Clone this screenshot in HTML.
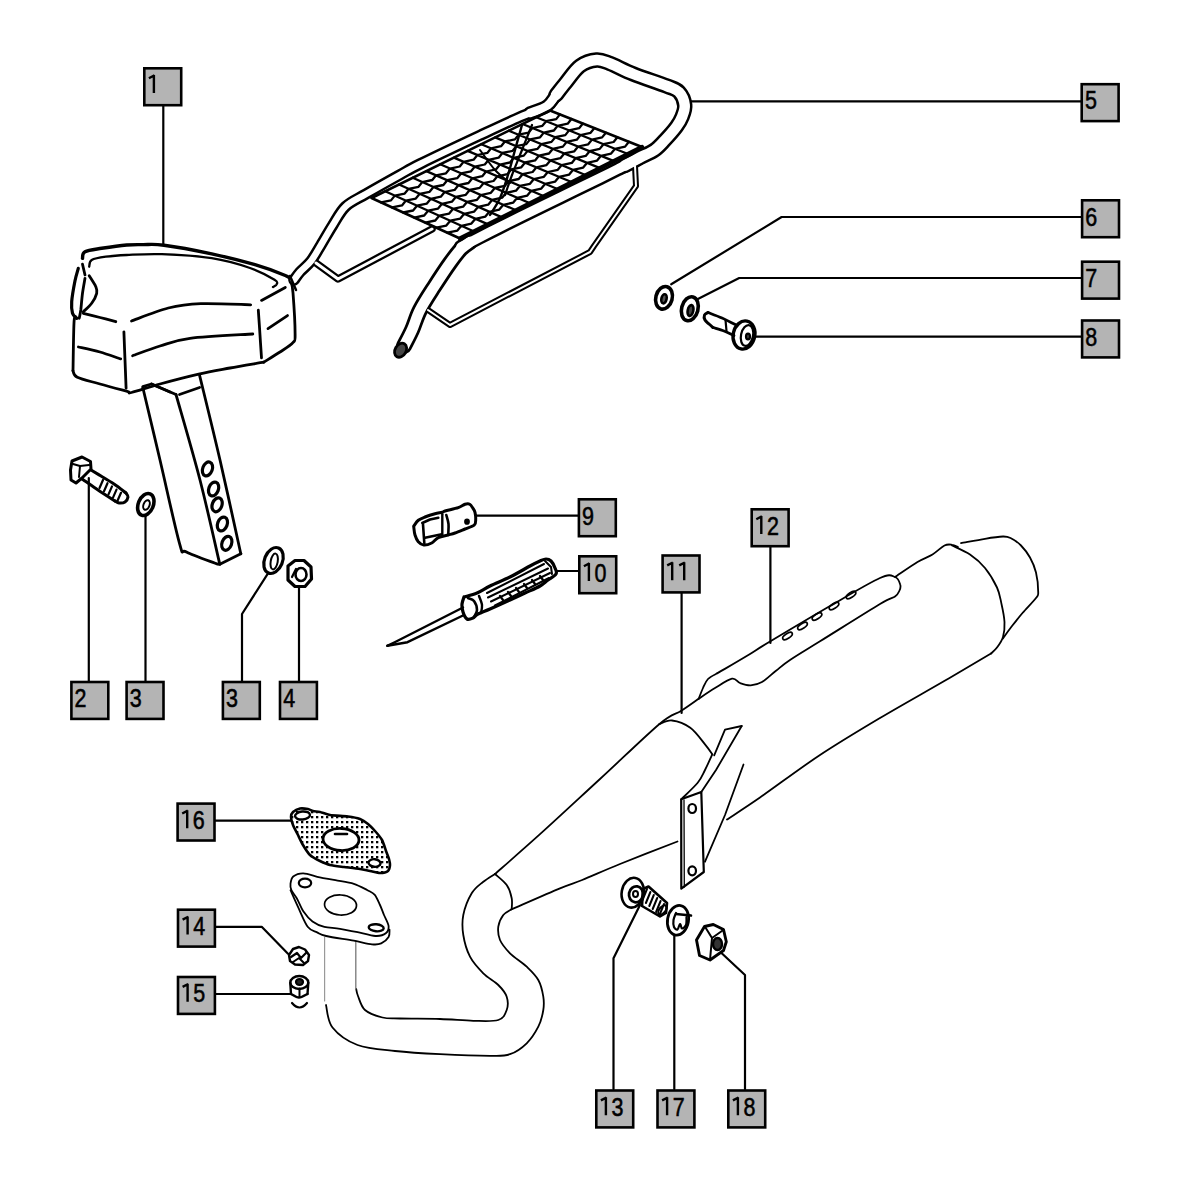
<!DOCTYPE html>
<html><head><meta charset="utf-8"><title>Parts diagram</title>
<style>html,body{margin:0;padding:0;background:#fff;width:1200px;height:1200px;overflow:hidden}svg{display:block}</style>
</head><body>
<svg width="1200" height="1200" viewBox="0 0 1200 1200">
<defs><pattern id="stip" width="5" height="5" patternUnits="userSpaceOnUse"><rect width="5" height="5" fill="#fff"/><rect x="1" y="1" width="2.3" height="2.3" fill="#000"/></pattern></defs>
<rect width="1200" height="1200" fill="#fff"/>
<g stroke-linecap="round" stroke-linejoin="round">
<path d="M163.3,106 L163.3,245" fill="none" stroke="#000" stroke-width="2.2" />
<path d="M1081,101.3 L690,101.3" fill="none" stroke="#000" stroke-width="2.2" />
<path d="M1081,217 L781.6,217 L671.2,284.3" fill="none" stroke="#000" stroke-width="2.2" />
<path d="M1081,278 L739.2,278 L697.4,299.2" fill="none" stroke="#000" stroke-width="2.2" />
<path d="M1081,336.7 L754.7,336.7" fill="none" stroke="#000" stroke-width="2.2" />
<path d="M578,515.7 L476,515.7" fill="none" stroke="#000" stroke-width="2.2" />
<path d="M578,571 L557,571" fill="none" stroke="#000" stroke-width="2.2" />
<path d="M681.6,593 L681.6,713" fill="none" stroke="#000" stroke-width="2.2" />
<path d="M770.4,546 L770.4,643" fill="none" stroke="#000" stroke-width="2.2" />
<path d="M88.8,681 L88.8,478" fill="none" stroke="#000" stroke-width="2.2" />
<path d="M145.5,681 L145.5,516" fill="none" stroke="#000" stroke-width="2.2" />
<path d="M242,681 L242,614 L268,573.3" fill="none" stroke="#000" stroke-width="2.2" />
<path d="M299,681 L299,587" fill="none" stroke="#000" stroke-width="2.2" />
<path d="M215,820.7 L291,820.7" fill="none" stroke="#000" stroke-width="2.2" />
<path d="M215,926.8 L261.7,926.8 L288,953.7" fill="none" stroke="#000" stroke-width="2.2" />
<path d="M215,994 L290,994" fill="none" stroke="#000" stroke-width="2.2" />
<path d="M613.5,1089 L613.5,958.3 L640,905" fill="none" stroke="#000" stroke-width="2.2" />
<path d="M674.3,1089 L674.3,935.5" fill="none" stroke="#000" stroke-width="2.2" />
<path d="M745,1089 L745,975 L721.7,953.3" fill="none" stroke="#000" stroke-width="2.2" />
<path d="M82.5,258.3 C82.9,257.2 81.8,253.4 85,251.7 C88.2,250 94.8,249.4 101.7,248.3 C108.7,247.2 119.8,245.6 126.7,245 C133.6,244.4 137.1,244.6 143.3,244.6 C149.5,244.6 152.6,243.7 164,245.2 C175.4,246.7 196.5,250.6 211.7,253.8 C226.9,257.1 242.7,261.1 255,264.7 C267.3,268.3 279.3,273 285.3,275.5 C291.3,278 289.9,279.1 290.8,279.8" fill="none" stroke="#000" stroke-width="3.4" />
<path d="M89.2,266.7 C89.6,265.6 88.9,261.7 91.7,260 C94.5,258.3 100,257.5 105.8,256.7 C111.6,255.9 117.4,255.4 126.7,255 C136,254.6 147.6,253.7 161.8,254.2 C176,254.7 197,255.9 211.7,258.2 C226.4,260.5 239.5,264.4 250,268 C260.5,271.6 270.1,277.1 274.5,279.8 C278.9,282.5 276.9,283 276.7,284.2 C276.4,285.4 273.6,286.5 273,287" fill="none" stroke="#000" stroke-width="2.3" />
<path d="M290.8,279.8 C291.2,282 292.3,283.8 293,292.8 C293.7,301.8 295.1,325.7 295.1,334 C295.1,342.3 295.4,339.7 292.9,342.7 C290.4,345.7 284.9,348.8 280,352 C275.1,355.2 266.4,360.5 263.7,362.2" fill="none" stroke="#000" stroke-width="2.8" />
<path d="M263.7,362.2 C258.1,363.2 240.8,366 230,368 C219.2,370 210.4,371.4 198.7,374.1 C187,376.8 171.2,380.9 160,384 C148.8,387.1 137,391.3 131.5,392.5 C126,393.7 132.4,392.8 127.2,391.4 C122,390 108.3,386.4 100,384 C91.7,381.6 81.8,379.5 77.3,377.3 C72.8,375.1 73.7,371.9 73,370.8" fill="none" stroke="#000" stroke-width="2.8" />
<path d="M73,370.8 C73.2,362.5 73.5,329.8 74.1,321 C74.7,312.2 76.3,318.8 76.7,318.3" fill="none" stroke="#000" stroke-width="2.8" />
<path d="M78.3,268.3 C77.8,270.4 76.1,275.2 75,280.8 C73.9,286.4 72.1,296.3 71.7,301.7 C71.3,307.1 71.7,310.5 72.5,313.3 C73.3,316.1 76,317.5 76.7,318.3" fill="none" stroke="#000" stroke-width="3.2" />
<path d="M82.5,264.2 L85,275" fill="none" stroke="#000" stroke-width="2.8" />
<path d="M85,278.3 C84.6,280.8 83.2,288 82.5,293.3 C81.8,298.6 81.3,305.8 80.8,310 C80.2,314.2 79.5,316.9 79.2,318.3" fill="none" stroke="#000" stroke-width="2.8" />
<path d="M89.2,275.8 C90.3,277.6 94.5,283.8 95.8,286.7 C97,289.6 97.4,290.5 96.7,293.3 C96,296.1 93.9,300.2 91.7,303.3 C89.5,306.4 84.7,310.3 83.3,311.7" fill="none" stroke="#000" stroke-width="2.8" />
<path d="M83.3,313.3 C86.1,314 94.6,316.1 100,317.5 C105.4,318.9 113.2,321 115.8,321.7" fill="none" stroke="#000" stroke-width="2.8" />
<path d="M131.5,321 C137.6,318.8 156.8,310.9 168.3,308 C179.9,305.1 187.1,304.2 200.8,303.7 C214.5,303.2 242.4,304.6 250.7,304.8" fill="none" stroke="#000" stroke-width="2.8" />
<path d="M261.5,300.4 L285.3,287.4" fill="none" stroke="#000" stroke-width="2.8" />
<path d="M123.9,331.8 C124.1,336.5 124.6,350.6 125,360 C125.4,369.4 125.9,383.5 126.1,388.2" fill="none" stroke="#000" stroke-width="2.8" />
<path d="M258.3,310.2 C258.6,314.3 259.5,327.1 260,335 C260.5,342.9 261.2,354 261.5,357.8" fill="none" stroke="#000" stroke-width="2.8" />
<path d="M132.6,355.7 C137.2,354.1 150.4,348.9 160,346 C169.6,343.1 174.5,340.3 190,338.3 C205.5,336.3 242.3,334.7 252.8,334" fill="none" stroke="#000" stroke-width="2.8" />
<path d="M78.4,347 C82,347.8 93,350 100,352 C107,354 117.2,357.8 120.7,358.9" fill="none" stroke="#000" stroke-width="2.8" />
<path d="M268,328.6 L287.5,315.6" fill="none" stroke="#000" stroke-width="2.8" />
<path d="M142.8,387.5 C145.7,399.6 153.9,434 160,460 C166.1,486 175.1,528 179.5,543.3 C183.9,558.6 180.1,548.5 186.5,552 C192.9,555.5 212.8,562.2 218,564.3" fill="none" stroke="#000" stroke-width="2.8" />
<path d="M176,394.5 C180,408.8 192.7,451.7 200,480 C207.3,508.3 216.5,550.2 219.8,564.3" fill="none" stroke="#000" stroke-width="2.8" />
<path d="M199.6,375.3 C203,389.4 213.1,430.2 220,460 C226.9,489.8 237.3,538.2 240.8,553.8" fill="none" stroke="#000" stroke-width="2.8" />
<path d="M240.8,553.8 L219.8,564.3" fill="none" stroke="#000" stroke-width="2.8" />
<path d="M142.8,386.6 L151.5,384 L176,394.5" fill="none" stroke="#000" stroke-width="2.8" />
<path d="M179.5,394.5 L199.6,387.5" fill="none" stroke="#000" stroke-width="2.8" />
<path d="M151.5,384 L170,392" fill="none" stroke="#000" stroke-width="2.8" />
<ellipse cx="207.5" cy="468.9" rx="4.8" ry="7.2" transform="rotate(20 207.5 468.9)" fill="none" stroke="#000" stroke-width="3.2"/>
<ellipse cx="213.6" cy="489" rx="4.8" ry="7.2" transform="rotate(20 213.6 489)" fill="none" stroke="#000" stroke-width="3.2"/>
<ellipse cx="217.1" cy="504.8" rx="4.8" ry="7.2" transform="rotate(20 217.1 504.8)" fill="none" stroke="#000" stroke-width="3.2"/>
<ellipse cx="222.4" cy="524" rx="4.8" ry="7.2" transform="rotate(20 222.4 524)" fill="none" stroke="#000" stroke-width="3.2"/>
<ellipse cx="226.8" cy="543.3" rx="4.8" ry="7.2" transform="rotate(20 226.8 543.3)" fill="none" stroke="#000" stroke-width="3.2"/>
<path d="M72,461 L82,457 L90.5,461.5 L91,469 L82,478 L76,483 L71,480 L70.5,470Z" fill="none" stroke="#000" stroke-width="3" />
<path d="M73,464 L80,466 L89,465" fill="none" stroke="#000" stroke-width="2.2" />
<path d="M80,466 L79,477" fill="none" stroke="#000" stroke-width="2" />
<path d="M91,470 C92.7,471 97.2,473.7 101,476 C104.8,478.3 109.8,481.2 114,484 C118.2,486.8 124,491.5 126,493" fill="none" stroke="#000" stroke-width="3" />
<path d="M82,479 C84.7,480.8 92.5,486.3 98,490 C103.5,493.7 112.2,499.2 115,501" fill="none" stroke="#000" stroke-width="3" />
<path d="M126,493 C126.3,493.7 128.2,495.5 128,497 C127.8,498.5 126.5,501 125,502 C123.5,503 120.7,503.2 119,503 C117.3,502.8 115.7,501.3 115,501" fill="none" stroke="#000" stroke-width="3" />
<path d="M103,480 L99.5,488" fill="none" stroke="#000" stroke-width="2.2" />
<path d="M107.5,483.2 L104,491.2" fill="none" stroke="#000" stroke-width="2.2" />
<path d="M112,486.4 L108.5,494.4" fill="none" stroke="#000" stroke-width="2.2" />
<path d="M116.5,489.6 L113,497.6" fill="none" stroke="#000" stroke-width="2.2" />
<path d="M121,492.8 L117.5,500.8" fill="none" stroke="#000" stroke-width="2.2" />
<ellipse cx="145.8" cy="504.5" rx="7.5" ry="11.5" transform="rotate(22 145.8 504.5)" fill="none" stroke="#000" stroke-width="3.6"/>
<ellipse cx="146.5" cy="505" rx="3" ry="5" transform="rotate(20 146.5 505)" fill="none" stroke="#000" stroke-width="2"/>
<ellipse cx="273.5" cy="560.5" rx="9" ry="13.5" transform="rotate(22 273.5 560.5)" fill="none" stroke="#000" stroke-width="3.2"/>
<ellipse cx="274.2" cy="561.5" rx="3.5" ry="8" transform="rotate(10 274.2 561.5)" fill="none" stroke="#000" stroke-width="2"/>
<path d="M288,566 L295,560.5 L304,560.5 L311,567 L311.5,579 L305,586.5 L295,586.5 L288,580Z" fill="none" stroke="#000" stroke-width="3.2" />
<ellipse cx="301" cy="574.5" rx="5.5" ry="6.5" transform="rotate(0 301 574.5)" fill="none" stroke="#000" stroke-width="2.6"/>
<path d="M296,569 L292,577" fill="none" stroke="#000" stroke-width="2.2" />
<path d="M294,280 C295,278.7 297.2,275.2 300,272 C302.8,268.8 307.5,265.5 311,261 C314.5,256.5 317.4,250.9 321,245 C324.6,239.1 328.6,231.7 332.7,225.3 C336.8,218.9 340.1,211.7 345.6,206.5 C351.2,201.3 356.9,199.3 366,194 C375.1,188.7 391,179.8 400,174.8 C409,169.8 406.7,170.6 420,164 C433.3,157.4 463.3,143.2 480,135.4 C496.7,127.6 508.8,121.9 520,117 C531.2,112.1 541,109.5 547,106 C553,102.5 554.5,97.7 556,96" fill="none" stroke="#000" stroke-width="11.5"/>
<path d="M530,113 C532.8,111.8 542.7,109 547,106 C551.3,103 552.9,98.8 556,95 C559.1,91.2 564,84.9 565.6,82.9" fill="none" stroke="#000" stroke-width="13.5"/>
<path d="M556,95 C557.6,93 561.6,87.7 565.6,82.9 C569.6,78.1 574.8,69.8 580,66 C585.2,62.2 591.6,60.4 596.6,60 C601.6,59.6 603.9,61.2 610,63.5 C616.1,65.8 623.8,70.2 633.3,74 C642.8,77.8 659.1,83 666.7,86 C674.3,89 676,88.8 679,92 C682,95.2 684.2,100.8 684.7,105 C685.2,109.2 683.4,113.4 682,117 C680.6,120.6 679.4,122.7 676.6,126.5 C673.8,130.3 668.7,136.1 665,140 C661.3,143.9 658.6,147.3 654.4,150.2 C650.2,153.1 644.9,154.9 640,157.5 C635.1,160.1 627.5,164.2 625,165.5" fill="none" stroke="#000" stroke-width="15.5"/>
<path d="M640,157.5 C636.7,159.2 626.7,164.6 620,168 C613.3,171.4 610,173.1 600,178 C590,182.9 573.3,191 560,197.5 C546.7,204 531.7,211.2 520,217 C508.3,222.8 499.8,227 490,232 C480.2,237 465.8,244.5 461,247" fill="none" stroke="#000" stroke-width="14.5"/>
<path d="M470,242 C468.5,243.2 464.3,245.5 461,249 C457.7,252.5 454.5,256.7 450,263 C445.5,269.3 439,279.2 434,287 C429,294.8 423.7,302.8 420,310 C416.3,317.2 414.7,324 412,330 C409.3,336 405.3,343.3 404,346" fill="none" stroke="#000" stroke-width="16"/>
<path d="M316,263 L338,279 L370,262 L432,229" fill="none" stroke="#000" stroke-width="7.5"/>
<path d="M635,166 L636,186 L594,246 L590,252 L450,325 L428,310" fill="none" stroke="#000" stroke-width="6"/>
<path d="M294,280 C295,278.7 297.2,275.2 300,272 C302.8,268.8 307.5,265.5 311,261 C314.5,256.5 317.4,250.9 321,245 C324.6,239.1 328.6,231.7 332.7,225.3 C336.8,218.9 340.1,211.7 345.6,206.5 C351.2,201.3 356.9,199.3 366,194 C375.1,188.7 391,179.8 400,174.8 C409,169.8 406.7,170.6 420,164 C433.3,157.4 463.3,143.2 480,135.4 C496.7,127.6 508.8,121.9 520,117 C531.2,112.1 541,109.5 547,106 C553,102.5 554.5,97.7 556,96" fill="none" stroke="#fff" stroke-width="6.5"/>
<path d="M530,113 C532.8,111.8 542.7,109 547,106 C551.3,103 552.9,98.8 556,95 C559.1,91.2 564,84.9 565.6,82.9" fill="none" stroke="#fff" stroke-width="8.5"/>
<path d="M556,95 C557.6,93 561.6,87.7 565.6,82.9 C569.6,78.1 574.8,69.8 580,66 C585.2,62.2 591.6,60.4 596.6,60 C601.6,59.6 603.9,61.2 610,63.5 C616.1,65.8 623.8,70.2 633.3,74 C642.8,77.8 659.1,83 666.7,86 C674.3,89 676,88.8 679,92 C682,95.2 684.2,100.8 684.7,105 C685.2,109.2 683.4,113.4 682,117 C680.6,120.6 679.4,122.7 676.6,126.5 C673.8,130.3 668.7,136.1 665,140 C661.3,143.9 658.6,147.3 654.4,150.2 C650.2,153.1 644.9,154.9 640,157.5 C635.1,160.1 627.5,164.2 625,165.5" fill="none" stroke="#fff" stroke-width="10.5"/>
<path d="M640,157.5 C636.7,159.2 626.7,164.6 620,168 C613.3,171.4 610,173.1 600,178 C590,182.9 573.3,191 560,197.5 C546.7,204 531.7,211.2 520,217 C508.3,222.8 499.8,227 490,232 C480.2,237 465.8,244.5 461,247" fill="none" stroke="#fff" stroke-width="9.5"/>
<path d="M470,242 C468.5,243.2 464.3,245.5 461,249 C457.7,252.5 454.5,256.7 450,263 C445.5,269.3 439,279.2 434,287 C429,294.8 423.7,302.8 420,310 C416.3,317.2 414.7,324 412,330 C409.3,336 405.3,343.3 404,346" fill="none" stroke="#fff" stroke-width="10.5"/>
<path d="M316,263 L338,279 L370,262 L432,229" fill="none" stroke="#fff" stroke-width="3"/>
<path d="M635,166 L636,186 L594,246 L590,252 L450,325 L428,310" fill="none" stroke="#fff" stroke-width="2"/>
<ellipse cx="400.6" cy="350.2" rx="5.5" ry="7.5" transform="rotate(30 400.6 350.2)" fill="#444" stroke="#000" stroke-width="2.8"/>
<path d="M290,276 L296,290" fill="none" stroke="#000" stroke-width="2.5" />
<path d="M385.2,191.3 L474,231.5 M399,184.5 L488,224.4 M412.7,177.8 L502,217.4 M426.4,171.1 L516,210.3 M440.2,164.3 L530,203.3 M453.9,157.6 L544,196.3 M467.6,150.9 L558,189.2 M481.3,144.2 L572,182.2 M495.1,137.4 L586,175.2 M508.8,130.7 L600,168.1 M522.5,124 L614,161.1 M536.3,117.2 L628,154 M381.1,202.4 L391,200.4 L394.8,195.6 L404.7,193.6 L408.6,188.8 L418.5,186.8 L422.3,182.1 L432.3,180 L436.1,175.3 L446,173.3 L449.9,168.6 L459.8,166.5 L463.6,161.8 L473.6,159.7 L477.4,155 L487.3,152.9 L491.1,148.3 L501.1,146.2 L504.9,141.5 L514.9,139.4 L518.7,134.7 L528.6,132.6 L532.4,128 L542.4,125.8 L546.2,121.2 L556.2,119.1 L559.9,114.4 M392.1,207.4 L402,205.4 L405.9,200.6 L415.8,198.6 L419.7,193.8 L429.6,191.8 L433.5,187 L443.4,185 L447.3,180.2 L457.2,178.2 L461.1,173.4 L471,171.3 L474.9,166.6 L484.8,164.5 L488.7,159.8 L498.6,157.7 L502.5,153 L512.5,150.9 L516.3,146.2 L526.3,144.1 L530.1,139.4 L540.1,137.3 L543.8,132.6 L553.9,130.5 L557.6,125.8 L567.7,123.7 L571.4,119 M403.2,212.5 L413.1,210.5 L417,205.7 L426.9,203.6 L430.8,198.8 L440.8,196.7 L444.7,192 L454.6,189.9 L458.5,185.1 L468.5,183 L472.3,178.3 L482.3,176.2 L486.1,171.5 L496.1,169.3 L500,164.6 L510,162.5 L513.8,157.8 L523.8,155.6 L527.6,150.9 L537.6,148.8 L541.5,144.1 L551.5,141.9 L555.3,137.2 L565.3,135.1 L569.1,130.4 L579.1,128.2 L582.9,123.6 M414.2,217.6 L424.2,215.5 L428.1,210.7 L438.1,208.6 L442,203.8 L451.9,201.7 L455.8,196.9 L465.8,194.8 L469.7,190 L479.7,187.9 L483.5,183.2 L493.5,181 L497.4,176.3 L507.4,174.2 L511.3,169.4 L521.3,167.3 L525.1,162.5 L535.1,160.4 L539,155.6 L549,153.5 L552.9,148.8 L562.9,146.6 L566.7,141.9 L576.8,139.7 L580.6,135 L590.6,132.8 L594.4,128.1 M425.3,222.6 L435.3,220.5 L439.2,215.7 L449.2,213.6 L453.1,208.8 L463.1,206.7 L467,201.9 L477,199.8 L480.9,195 L490.9,192.8 L494.8,188 L504.8,185.9 L508.7,181.1 L518.7,179 L522.6,174.2 L532.6,172 L536.5,167.3 L546.5,165.1 L550.4,160.4 L560.4,158.2 L564.3,153.4 L574.3,151.3 L578.1,146.5 L588.2,144.3 L592,139.6 L602.1,137.4 L605.9,132.7 M436.4,227.7 L446.3,225.6 L450.3,220.7 L460.3,218.6 L464.2,213.8 L474.2,211.6 L478.2,206.8 L488.2,204.7 L492.1,199.9 L502.1,197.7 L506,192.9 L516,190.7 L519.9,185.9 L530,183.8 L533.9,179 L543.9,176.8 L547.8,172 L557.8,169.8 L561.7,165.1 L571.8,162.9 L575.7,158.1 L585.7,155.9 L589.6,151.2 L599.7,148.9 L603.5,144.2 L613.6,142 L617.4,137.3 M447.4,232.7 L457.4,230.6 L461.4,225.8 L471.4,223.6 L475.4,218.8 L485.4,216.6 L489.3,211.8 L499.3,209.6 L503.3,204.8 L513.3,202.6 L517.2,197.8 L527.3,195.6 L531.2,190.8 L541.3,188.6 L545.2,183.8 L555.2,181.6 L559.1,176.8 L569.2,174.6 L573.1,169.8 L583.2,167.6 L587.1,162.8 L597.1,160.6 L601,155.8 L611.1,153.6 L615,148.8 L625.1,146.6 L628.9,141.8" fill="none" stroke="#000" stroke-width="2.3" />
<path d="M371.5,198 L550,110.5 L642,147 L460,238.5Z" fill="none" stroke="#000" stroke-width="2.6" />
<path d="M460,238.5 L642,147" fill="none" stroke="#000" stroke-width="4.2" />
<path d="M522,125 C520.8,129.2 517.3,141.7 515,150 C512.7,158.3 510.5,167 508,175 C505.5,183 503,191.3 500,198 C497,204.7 491.7,212.2 490,215" fill="none" stroke="#000" stroke-width="2.4" />
<path d="M532,125 C530.3,129.2 525.3,141.7 522,150 C518.7,158.3 514.8,167.5 512,175 C509.2,182.5 506.2,191.7 505,195" fill="none" stroke="#000" stroke-width="2.2" />
<path d="M480,150 C482.5,153.3 490,164.5 495,170 C500,175.5 507.5,180.8 510,183" fill="none" stroke="#000" stroke-width="2" />
<ellipse cx="664" cy="297.8" rx="8.2" ry="11.5" transform="rotate(15 664 297.8)" fill="none" stroke="#000" stroke-width="3.6"/>
<ellipse cx="664" cy="298.8" rx="2.6" ry="4.6" transform="rotate(12 664 298.8)" fill="#555" stroke="#000" stroke-width="2.6"/>
<ellipse cx="689.8" cy="308.8" rx="8.2" ry="12.2" transform="rotate(15 689.8 308.8)" fill="none" stroke="#000" stroke-width="3.6"/>
<ellipse cx="690.5" cy="310.5" rx="2.8" ry="5.5" transform="rotate(12 690.5 310.5)" fill="#444" stroke="#000" stroke-width="2.6"/>
<path d="M708,312.5 C710.3,313.4 717.3,315.9 722,318 C726.7,320.1 733.7,323.8 736,325" fill="none" stroke="#000" stroke-width="2.8" />
<path d="M713,327.5 C714.8,328.1 720.5,329.7 724,331 C727.5,332.3 732.3,334.8 734,335.5" fill="none" stroke="#000" stroke-width="2.8" />
<path d="M708,312.5 C707.4,312.9 705,313.8 704.5,315 C704,316.2 704.2,318.5 705,320 C705.8,321.5 707.7,322.8 709,324 C710.3,325.2 712.3,326.9 713,327.5" fill="none" stroke="#000" stroke-width="3" />
<path d="M725.5,320 L726.5,331" fill="none" stroke="#000" stroke-width="2.2" />
<ellipse cx="744" cy="335" rx="10.8" ry="14.2" transform="rotate(12 744 335)" fill="none" stroke="#000" stroke-width="3.4"/>
<ellipse cx="747" cy="335.5" rx="6" ry="10.5" transform="rotate(12 747 335.5)" fill="none" stroke="#000" stroke-width="2.2"/>
<ellipse cx="748" cy="336.5" rx="2" ry="2.8" transform="rotate(0 748 336.5)" fill="#444" stroke="#000" stroke-width="2.2"/>
<path d="M413.7,526.3 C414.5,525.3 416.4,521.8 418.3,520.3 C420.2,518.8 422.2,518.1 425,517 C427.8,515.9 432.1,514.5 435,513.7 C437.9,512.9 440.6,512.8 442.3,512.3 C444,511.8 442.3,511.8 445,511 C447.7,510.2 455,508.8 458.3,507.7 C461.6,506.6 463.1,504.9 465,504.3 C466.9,503.7 468.4,503.6 469.7,504.3 C471,505 472.1,507 473,508.3 C473.9,509.6 474.6,510.5 475,512.3 C475.4,514.1 475.8,516.9 475.7,519 C475.6,521.1 476.1,523.3 474.3,525 C472.5,526.7 468.2,527.7 465,529 C461.8,530.3 457.8,532 455,533 C452.2,534 451.1,534.2 448.3,535 C445.5,535.8 441.1,536.4 438.3,537.7 C435.5,539 434.1,541.8 431.7,543 C429.3,544.2 425.9,545.2 423.7,545 C421.5,544.8 419.8,543.4 418.3,541.7 C416.9,540 415.8,537.6 415,535 C414.2,532.4 413.9,527.8 413.7,526.3" fill="none" stroke="#000" stroke-width="3" />
<path d="M422.3,523 L430,519.5 L438.3,517.7" fill="none" stroke="#000" stroke-width="2.6" />
<path d="M423,524.3 L424.3,543" fill="none" stroke="#000" stroke-width="2.6" />
<path d="M425,537.7 L441.7,534.3" fill="none" stroke="#000" stroke-width="2.6" />
<path d="M442.3,514.3 L442.3,535" fill="none" stroke="#000" stroke-width="2.4" />
<path d="M446.3,515 C446.7,516.5 448.2,520.9 448.5,524 C448.8,527.1 448.3,532.1 448.3,533.7" fill="none" stroke="#000" stroke-width="2.6" />
<ellipse cx="467" cy="521.7" rx="1.8" ry="2" transform="rotate(0 467 521.7)" fill="#000" stroke="#000" stroke-width="2.2"/>
<path d="M464,597 C466.2,596.3 472.7,594.8 477,593 C481.3,591.2 484.5,588.7 490,586 C495.5,583.3 503.3,580.3 510,577 C516.7,573.7 525,568.7 530,566 C535,563.3 537.3,562.2 540,561 C542.7,559.8 544.2,559 546,559 C547.8,559 549.5,559.5 551,561 C552.5,562.5 554.2,565.8 555,568 C555.8,570.2 557.2,572 556,574 C554.8,576 550.7,578 548,580 C545.3,582 543.8,583.8 540,586 C536.2,588.2 530,590.7 525,593 C520,595.3 515.8,597.3 510,600 C504.2,602.7 495.3,606.7 490,609 C484.7,611.3 480.8,612.5 478,614 C475.2,615.5 474.8,617.2 473,618 C471.2,618.8 468.7,620 467,619 C465.3,618 463.8,614.5 463,612 C462.2,609.5 461.8,606.5 462,604 C462.2,601.5 463.7,598.2 464,597" fill="none" stroke="#000" stroke-width="3.2" />
<path d="M468,598 C469,598.5 472.5,599 474,601 C475.5,603 477,607.3 477,610 C477,612.7 474.5,615.8 474,617" fill="none" stroke="#000" stroke-width="2.6" />
<path d="M479,596 C479.5,597.5 481.7,602.2 482,605 C482.3,607.8 481.2,611.7 481,613" fill="none" stroke="#000" stroke-width="2.4" />
<path d="M487,593 L544,564" fill="none" stroke="#000" stroke-width="2" />
<path d="M488,597.5 L548,568.5" fill="none" stroke="#000" stroke-width="2" />
<path d="M491,601.5 L550,573" fill="none" stroke="#000" stroke-width="2" />
<path d="M495,605.5 L549,578" fill="none" stroke="#000" stroke-width="2" />
<path d="M500,596 L503,600" fill="none" stroke="#000" stroke-width="2.2" />
<path d="M508,592 L511,596" fill="none" stroke="#000" stroke-width="2.2" />
<path d="M516,588 L519,592" fill="none" stroke="#000" stroke-width="2.2" />
<path d="M524,584 L527,588" fill="none" stroke="#000" stroke-width="2.2" />
<path d="M532,580 L535,584" fill="none" stroke="#000" stroke-width="2.2" />
<path d="M540,576 L543,580" fill="none" stroke="#000" stroke-width="2.2" />
<path d="M545,561 L551,567 L552,574" fill="none" stroke="#000" stroke-width="2" />
<path d="M463,607.5 L394.7,642.2 L387.3,645.8" fill="none" stroke="#000" stroke-width="2.4" />
<path d="M464,615 L407.5,642.2 L387.3,645.8" fill="none" stroke="#000" stroke-width="2.4" />
<path d="M495,874 C502.5,867.4 522.5,850 540,834.2 C557.5,818.4 580.1,797.3 600,779 C619.9,760.7 645.7,735.6 659.2,724.2 C672.8,712.8 674.7,715 681.3,710.7 C687.9,706.5 695.8,700.7 698.7,698.7" fill="none" stroke="#000" stroke-width="1.8" />
<path d="M698.7,698.7 C699.4,696.9 701.5,691.3 703,688 C704.5,684.7 705.6,681.5 708,679 C710.4,676.5 715.8,674.2 717.3,673.3" fill="none" stroke="#000" stroke-width="1.8" />
<path d="M717.3,673.3 C722.2,670.4 737.9,661.3 746.7,656 C755.5,650.7 756.1,649.8 770,641.5 C783.9,633.2 811.7,616.6 830,606 C848.3,595.4 869.2,582.8 880,578 C890.8,573.2 891.6,575.9 895,577 C898.4,578.1 899.5,582.2 900.2,584.5 C901,586.8 900.4,588.5 899.5,590.5 C898.6,592.5 898.2,594.2 895,596.5 C891.8,598.8 892.5,596.5 880,604 C867.5,611.5 835,632 820,641.3 C805,650.6 797.3,655.1 790,660 C782.7,664.9 780.7,667 776,670.7 C771.3,674.4 766.2,679.6 762,682 C757.8,684.4 754.4,685.1 750.7,685.3 C747,685.5 743.1,684.1 740,683 C736.9,681.9 736.2,677.9 732,678.7 C727.8,679.5 720.5,684.7 715,688 C709.5,691.3 701.4,696.9 698.7,698.7" fill="none" stroke="#000" stroke-width="1.8" />
<ellipse cx="787.5" cy="636" rx="5.5" ry="2.4" transform="rotate(-33 787.5 636)" fill="none" stroke="#000" stroke-width="1.7"/>
<ellipse cx="802.5" cy="626" rx="5.5" ry="2.4" transform="rotate(-33 802.5 626)" fill="none" stroke="#000" stroke-width="1.7"/>
<ellipse cx="817" cy="616.5" rx="5.5" ry="2.4" transform="rotate(-33 817 616.5)" fill="none" stroke="#000" stroke-width="1.7"/>
<ellipse cx="834" cy="606" rx="5.5" ry="2.4" transform="rotate(-33 834 606)" fill="none" stroke="#000" stroke-width="1.7"/>
<ellipse cx="851" cy="595" rx="5.5" ry="2.4" transform="rotate(-33 851 595)" fill="none" stroke="#000" stroke-width="1.7"/>
<path d="M895,577 C898.8,574.5 911.2,565.8 917.5,562 C923.8,558.2 928,557.2 932.5,554.5 C937,551.8 941.2,547.1 944.5,545.5 C947.8,543.9 949.8,544.5 952,544.8 C954.2,545 957,546.6 958,547" fill="none" stroke="#000" stroke-width="1.8" />
<path d="M952,545.5 C955,547 964.5,550.8 970,554.5 C975.5,558.2 980.5,562.5 985,568 C989.5,573.5 994.2,581.5 997,587.5 C999.8,593.5 1000.2,598.2 1001.5,604 C1002.8,609.8 1004.2,616.5 1004.5,622 C1004.8,627.5 1004.2,632.8 1003,637 C1001.8,641.2 999,644.8 997,647.5 C995,650.2 992,652.5 991,653.5" fill="none" stroke="#000" stroke-width="1.8" />
<path d="M961,543.2 C965,542.5 978,539.9 985,538.8 C992,537.6 998.8,536.6 1003,536.5 C1007.2,536.4 1007.5,536.5 1010.5,538 C1013.5,539.5 1017.8,542.2 1021,545.5 C1024.2,548.8 1027.5,553 1030,557.5 C1032.5,562 1034.6,566.8 1036,572.5 C1037.4,578.2 1038.2,587.8 1038.2,592 C1038.2,596.2 1038.6,594.5 1036,598 C1033.4,601.5 1026.8,608 1022.5,613 C1018.2,618 1013.8,623.8 1010.5,628 C1007.2,632.2 1004.2,636.8 1003,638.5" fill="none" stroke="#000" stroke-width="1.8" />
<path d="M991,653.5 C983.5,657.9 964.5,669.2 946,680 C927.5,690.8 901,705.5 880,718 C859,730.5 840,741.8 820,755 C800,768.2 775.5,786.8 760,797.5 C744.5,808.2 732.5,815.8 727,819.5" fill="none" stroke="#000" stroke-width="1.8" />
<path d="M677.5,841.5 C667.9,845.2 635.9,857.6 620,864 C604.1,870.4 592.2,876 582.2,880 C572.2,884 571.8,883.4 560,888.3 C548.2,893.2 519.8,905.7 511.7,909.2" fill="none" stroke="#000" stroke-width="1.8" />
<path d="M659.2,724.2 C661.3,723.6 666.8,719.9 672,720.5 C677.2,721.1 684.8,723.8 690.3,727.8 C695.8,731.8 701.3,739.9 705,744.3 C708.7,748.7 711.1,752.7 712.3,754.4" fill="none" stroke="#000" stroke-width="1.8" />
<path d="M712.3,754.4 C711.1,757 707.4,765.3 705,770 C702.6,774.7 701.7,777.9 697.7,782.8 C693.7,787.7 684,796.5 681.2,799.3" fill="none" stroke="#000" stroke-width="1.8" />
<path d="M714.2,755.3 L725,729.7 L741.7,726" fill="none" stroke="#000" stroke-width="1.8" />
<path d="M741.7,726 L716,770 L701.3,792" fill="none" stroke="#000" stroke-width="1.8" />
<path d="M681.2,799.3 L701.3,792 L703.8,872 L681.3,888.7Z" fill="none" stroke="#000" stroke-width="2.2" />
<path d="M684,800 L684.3,887" fill="none" stroke="#000" stroke-width="1.3" />
<ellipse cx="692.2" cy="808.5" rx="3.8" ry="4.5" transform="rotate(0 692.2 808.5)" fill="none" stroke="#000" stroke-width="2.2"/>
<ellipse cx="692.2" cy="870.8" rx="3.8" ry="4.5" transform="rotate(0 692.2 870.8)" fill="none" stroke="#000" stroke-width="2.2"/>
<path d="M743.5,764.5 L725,815 L705,861.7" fill="none" stroke="#000" stroke-width="1.8" />
<path d="M495,874 C496.9,875.8 503.9,881 506.7,885 C509.5,889 510.9,894.3 511.7,898.3 C512.5,902.3 511.7,907.4 511.7,909.2" fill="none" stroke="#000" stroke-width="1.8" />
<path d="M495,874 C493,875.3 486.9,878.8 483,882 C479.1,885.2 475,887.8 471.7,893.3 C468.4,898.8 464.7,908 463.3,915 C461.9,922 462.2,928 463.3,935 C464.4,942 466.7,950.3 470,956.7 C473.3,963.1 478.6,968.6 483.3,973.3 C488,978 494.4,981.1 498.3,985 C502.2,988.9 505.3,992.5 506.7,996.7 C508.1,1000.9 508.1,1006.1 506.7,1010 C505.3,1013.9 503.9,1018.2 498.3,1020 C492.7,1021.8 483,1021 473.3,1020.8 C463.6,1020.6 452.2,1019.4 440,1019 C427.8,1018.6 409.6,1018.8 400,1018.5 C390.4,1018.2 388.3,1018.9 382.5,1017.5 C376.7,1016.1 369.1,1013.6 365,1010 C360.9,1006.4 359.5,999.5 358,996 C356.5,992.5 356.5,990.2 356.2,989" fill="none" stroke="#000" stroke-width="1.8" />
<path d="M355.8,989 L355.8,941" fill="none" stroke="#777" stroke-width="1.3" />
<path d="M511.7,909.2 C510.3,910.2 505.5,912.1 503.3,915 C501.1,917.9 498.9,922.5 498.3,926.7 C497.8,930.9 498.1,935.6 500,940 C501.9,944.4 505.6,948.8 510,953.3 C514.5,957.8 522,962.2 526.7,966.7 C531.4,971.2 535.5,975 538.3,980 C541.1,985 542.5,991.7 543.3,996.7 C544.1,1001.7 544.1,1005 543.3,1010 C542.5,1015 541.1,1021.2 538.3,1026.7 C535.5,1032.2 531.4,1038.7 526.7,1043.3 C522,1047.9 516.1,1052.1 510,1054.2 C503.9,1056.3 501.7,1055.8 490,1055.8 C478.3,1055.8 455.8,1055 440,1054.2 C424.2,1053.4 408.8,1052.5 395,1051 C381.2,1049.5 367.9,1048.9 357.5,1045 C347.1,1041.1 337.8,1034.2 332.5,1027.5 C327.2,1020.8 327.1,1008.8 326,1005" fill="none" stroke="#000" stroke-width="1.8" />
<path d="M324.6,1001 L324.6,937" fill="none" stroke="#999" stroke-width="1.2" />
<path d="M290.5,883.8 C290.8,881.7 291.3,878.1 293.2,876.5 C295.2,874.9 299.3,873.2 303.3,873.3 C307.3,873.4 315,876.4 319.8,877.4 C324.6,878.4 330.3,879.2 335.4,880.2 C340.5,881.2 348.9,882.3 353.8,883.8 C358.6,885.3 364.3,888.6 367.5,890.2 C370.7,891.9 372.9,892.6 374.8,894.8 C376.7,897 378.6,902 380,905 C381.4,908 382.7,911.9 384,915 C385.3,918.1 388.3,923.3 388.6,926 C388.9,928.7 387.6,931.8 385.8,933.3 C384,934.8 380.1,936 376.7,936 C373.3,936 368.4,934.4 362.9,933.3 C357.4,932.2 345.8,929.7 340,928.8 C334.2,927.8 328.5,928 324.4,926.9 C320.3,925.8 315.7,923.7 312.5,921.4 C309.3,919.1 305.6,914.7 303.3,911.3 C301,907.9 298.7,901.7 296.9,898.5 C295.1,895.3 292.4,892.5 291.4,890.2 C290.4,888 290.2,885.9 290.5,883.8Z" fill="none" stroke="#000" stroke-width="1.8" />
<path d="M290.5,890.2 C291.9,893.3 295.9,902.5 298.8,908.6 C301.6,914.7 304.8,923 307.9,927 C311,931 314,930.9 317.1,932.4 C320.2,933.9 320.1,934.6 326.2,936 C332.4,937.4 346.1,939.3 353.8,940.7 C361.4,942.1 367.4,943.8 372,944.3 C376.6,944.8 378.5,944.6 381.2,943.4 C384,942.2 387.2,939.3 388.6,937 C390,934.7 389.4,930.9 389.5,929.7" fill="none" stroke="#000" stroke-width="1.8" />
<ellipse cx="340.5" cy="905" rx="16" ry="10" transform="rotate(3 340.5 905)" fill="none" stroke="#000" stroke-width="1.7"/>
<ellipse cx="305" cy="883" rx="6.2" ry="4.4" transform="rotate(0 305 883)" fill="none" stroke="#000" stroke-width="2.2"/>
<ellipse cx="376.2" cy="927.8" rx="7.5" ry="3.5" transform="rotate(5 376.2 927.8)" fill="none" stroke="#000" stroke-width="2.4"/>
<path d="M291,817 C291,815.3 291.8,813.1 293,812 C294.2,810.9 298,808.9 300,808.5 C302,808.1 306.3,808.7 308,809 C309.7,809.3 311.4,810.6 313,811 C314.6,811.4 317.7,811.5 320,812 C322.3,812.5 326.3,814.4 330,815 C333.7,815.6 344,816 348,816.5 C352,817 357.3,818 360,819 C362.7,820 366,822.4 368,824 C370,825.6 373.1,828.9 375,831 C376.9,833.1 380.5,837.3 382,840 C383.5,842.7 385.1,848.5 386,851 C386.9,853.5 388.5,857.1 389,859 C389.5,860.9 390.1,863.4 390,865 C389.9,866.6 389.3,869.9 388,871 C386.7,872.1 382.4,873 380,873 C377.6,873 372.7,871.5 370,871 C367.3,870.5 363.5,869.5 360,869 C356.5,868.5 348,867.5 344,867 C340,866.5 333.2,865.8 330,865 C326.8,864.2 322.7,862.3 320,861 C317.3,859.7 312.3,857.1 310,855 C307.7,852.9 304.6,847.7 303,845 C301.4,842.3 299.3,837.7 298,835 C296.7,832.3 293.9,827.4 293,825 C292.1,822.6 291,818.7 291,817Z" fill="url(#stip)" stroke="#000" stroke-width="2.6" />
<ellipse cx="341" cy="839.5" rx="18" ry="11" transform="rotate(3 341 839.5)" fill="#fff" stroke="#000" stroke-width="2.8"/>
<path d="M335,834 L347,834" fill="none" stroke="#000" stroke-width="2.6" />
<ellipse cx="302.5" cy="815.5" rx="7.5" ry="4" transform="rotate(-5 302.5 815.5)" fill="#fff" stroke="#000" stroke-width="2.4"/>
<ellipse cx="374.5" cy="863" rx="6" ry="3.8" transform="rotate(5 374.5 863)" fill="#fff" stroke="#000" stroke-width="2.4"/>
<path d="M289,955 L293,949 L299,947 L305,949.5 L309,955 L308,961 L303,965 L295,964.5 L290,961Z" fill="none" stroke="#000" stroke-width="2.4" />
<path d="M291,957 L297,953 L301,958 L306,953" fill="none" stroke="#000" stroke-width="2.2" />
<path d="M293,962 L299,958 L304,963" fill="none" stroke="#000" stroke-width="2" />
<ellipse cx="299.3" cy="982.5" rx="9" ry="6.5" transform="rotate(0 299.3 982.5)" fill="none" stroke="#000" stroke-width="2.4"/>
<ellipse cx="299.5" cy="982" rx="3.5" ry="3" transform="rotate(0 299.5 982)" fill="#222" stroke="#000" stroke-width="2.2"/>
<path d="M290.3,983 L291,994" fill="none" stroke="#000" stroke-width="2.4" />
<path d="M308.3,983 L307.5,994" fill="none" stroke="#000" stroke-width="2.4" />
<path d="M299.5,988.5 L299.5,997" fill="none" stroke="#000" stroke-width="2" />
<path d="M291,994 C292.3,994.6 296.2,997.5 299,997.5 C301.8,997.5 306.1,994.6 307.5,994" fill="none" stroke="#000" stroke-width="2.4" />
<path d="M292,1003 Q299.5,1012 307,1003" fill="none" stroke="#000" stroke-width="2.2" />
<ellipse cx="632.7" cy="892.7" rx="11" ry="15" transform="rotate(10 632.7 892.7)" fill="none" stroke="#000" stroke-width="2.6"/>
<ellipse cx="636" cy="894.3" rx="7" ry="8" transform="rotate(10 636 894.3)" fill="none" stroke="#000" stroke-width="2.8"/>
<ellipse cx="635.5" cy="894" rx="2.5" ry="3" transform="rotate(0 635.5 894)" fill="none" stroke="#000" stroke-width="2"/>
<path d="M643,889 L648.5,886.5 L667,903 L666,913 L660,916.5 L642,906Z" fill="none" stroke="#000" stroke-width="2.6" />
<path d="M647,889 L642.5,900" fill="none" stroke="#000" stroke-width="2" />
<path d="M650.4,892 L645.9,903" fill="none" stroke="#000" stroke-width="2" />
<path d="M653.8,895 L649.3,906" fill="none" stroke="#000" stroke-width="2" />
<path d="M657.2,898 L652.7,909" fill="none" stroke="#000" stroke-width="2" />
<path d="M660.6,901 L656.1,912" fill="none" stroke="#000" stroke-width="2" />
<path d="M664,904 L659.5,915" fill="none" stroke="#000" stroke-width="2" />
<ellipse cx="662.5" cy="910" rx="3" ry="5.5" transform="rotate(40 662.5 910)" fill="none" stroke="#000" stroke-width="2.2"/>
<ellipse cx="678" cy="920.3" rx="10.5" ry="15" transform="rotate(10 678 920.3)" fill="none" stroke="#000" stroke-width="2.8"/>
<path d="M676,913 C675.6,914.2 673.8,917.7 673.5,920 C673.2,922.3 673.3,925.4 674,927 C674.7,928.6 676.5,930 677.5,929.5 C678.5,929 679.2,924.2 680,924 C680.8,923.8 681,928.3 682,928.5 C683,928.7 685.2,926.9 686,925 C686.8,923.1 686.4,918.3 686.5,917" fill="none" stroke="#000" stroke-width="2.2" />
<path d="M676,914 L691,915.5" fill="none" stroke="#000" stroke-width="2.6" />
<path d="M696.5,940 L704.5,926.5 L713.3,924.5 L723.5,929.5 L726.3,941.7 L723.5,950.5 L710,960 L699.5,955.5Z" fill="none" stroke="#000" stroke-width="2.9" />
<path d="M705,926.7 L712,938 L723.3,930" fill="none" stroke="#000" stroke-width="2" />
<path d="M712,938 L710,960" fill="none" stroke="#000" stroke-width="2" />
<ellipse cx="717.5" cy="944" rx="4.5" ry="6" transform="rotate(0 717.5 944)" fill="#333" stroke="#000" stroke-width="2.4"/>
</g>
<g>
<rect x="144.3" y="68.3" width="36.9" height="36.9" fill="#b4b4b4" stroke="#000" stroke-width="2.6"/>
<path d="M153.9,75 L153.9,93 M148.9,78.2 L154.5,75.3" stroke="#000" stroke-width="2.4" fill="none" stroke-linecap="butt"/>
<rect x="1081.7" y="84.2" width="36.9" height="36.9" fill="#b4b4b4" stroke="#000" stroke-width="2.6"/>
<text transform="translate(1084.9 109.4) scale(0.86 1)" font-family="Liberation Sans" font-size="25" stroke="#000" stroke-width="0.55">5</text>
<rect x="1082.1" y="200.3" width="36.9" height="36.9" fill="#b4b4b4" stroke="#000" stroke-width="2.6"/>
<text transform="translate(1085.3 225.5) scale(0.86 1)" font-family="Liberation Sans" font-size="25" stroke="#000" stroke-width="0.55">6</text>
<rect x="1082.1" y="261.7" width="36.9" height="36.9" fill="#b4b4b4" stroke="#000" stroke-width="2.6"/>
<text transform="translate(1085.3 286.9) scale(0.86 1)" font-family="Liberation Sans" font-size="25" stroke="#000" stroke-width="0.55">7</text>
<rect x="1082.1" y="320.5" width="36.9" height="36.9" fill="#b4b4b4" stroke="#000" stroke-width="2.6"/>
<text transform="translate(1085.3 345.7) scale(0.86 1)" font-family="Liberation Sans" font-size="25" stroke="#000" stroke-width="0.55">8</text>
<rect x="578.9" y="499.3" width="36.9" height="36.9" fill="#b4b4b4" stroke="#000" stroke-width="2.6"/>
<text transform="translate(582.1 524.5) scale(0.86 1)" font-family="Liberation Sans" font-size="25" stroke="#000" stroke-width="0.55">9</text>
<rect x="579.3" y="556.3" width="36.9" height="36.9" fill="#b4b4b4" stroke="#000" stroke-width="2.6"/>
<path d="M588.9,563 L588.9,581 M583.9,566.2 L589.5,563.3" stroke="#000" stroke-width="2.4" fill="none" stroke-linecap="butt"/>
<text transform="translate(594.5 581.5) scale(0.86 1)" font-family="Liberation Sans" font-size="25" stroke="#000" stroke-width="0.55">0</text>
<rect x="662.6" y="555.5" width="36.9" height="36.9" fill="#b4b4b4" stroke="#000" stroke-width="2.6"/>
<path d="M672.2,562.2 L672.2,580.2 M667.2,565.4 L672.8,562.5" stroke="#000" stroke-width="2.4" fill="none" stroke-linecap="butt"/>
<path d="M684.2,562.2 L684.2,580.2 M679.2,565.4 L684.8,562.5" stroke="#000" stroke-width="2.4" fill="none" stroke-linecap="butt"/>
<rect x="751.7" y="509.3" width="36.9" height="36.9" fill="#b4b4b4" stroke="#000" stroke-width="2.6"/>
<path d="M761.3,516 L761.3,534 M756.3,519.2 L761.9,516.3" stroke="#000" stroke-width="2.4" fill="none" stroke-linecap="butt"/>
<text transform="translate(766.9 534.5) scale(0.86 1)" font-family="Liberation Sans" font-size="25" stroke="#000" stroke-width="0.55">2</text>
<rect x="71.4" y="682" width="36.9" height="36.9" fill="#b4b4b4" stroke="#000" stroke-width="2.6"/>
<text transform="translate(74.6 707.2) scale(0.86 1)" font-family="Liberation Sans" font-size="25" stroke="#000" stroke-width="0.55">2</text>
<rect x="126.6" y="682" width="36.9" height="36.9" fill="#b4b4b4" stroke="#000" stroke-width="2.6"/>
<text transform="translate(129.8 707.2) scale(0.86 1)" font-family="Liberation Sans" font-size="25" stroke="#000" stroke-width="0.55">3</text>
<rect x="222.9" y="682" width="36.9" height="36.9" fill="#b4b4b4" stroke="#000" stroke-width="2.6"/>
<text transform="translate(226.1 707.2) scale(0.86 1)" font-family="Liberation Sans" font-size="25" stroke="#000" stroke-width="0.55">3</text>
<rect x="280" y="682" width="36.9" height="36.9" fill="#b4b4b4" stroke="#000" stroke-width="2.6"/>
<text transform="translate(283.2 707.2) scale(0.86 1)" font-family="Liberation Sans" font-size="25" stroke="#000" stroke-width="0.55">4</text>
<rect x="177.6" y="803.6" width="36.9" height="36.9" fill="#b4b4b4" stroke="#000" stroke-width="2.6"/>
<path d="M187.2,810.3 L187.2,828.3 M182.2,813.5 L187.8,810.6" stroke="#000" stroke-width="2.4" fill="none" stroke-linecap="butt"/>
<text transform="translate(192.8 828.8) scale(0.86 1)" font-family="Liberation Sans" font-size="25" stroke="#000" stroke-width="0.55">6</text>
<rect x="178" y="909.7" width="36.9" height="36.9" fill="#b4b4b4" stroke="#000" stroke-width="2.6"/>
<path d="M187.6,916.4 L187.6,934.4 M182.6,919.6 L188.2,916.7" stroke="#000" stroke-width="2.4" fill="none" stroke-linecap="butt"/>
<text transform="translate(193.2 934.9) scale(0.86 1)" font-family="Liberation Sans" font-size="25" stroke="#000" stroke-width="0.55">4</text>
<rect x="178" y="977" width="36.9" height="36.9" fill="#b4b4b4" stroke="#000" stroke-width="2.6"/>
<path d="M187.6,983.7 L187.6,1001.7 M182.6,986.9 L188.2,984" stroke="#000" stroke-width="2.4" fill="none" stroke-linecap="butt"/>
<text transform="translate(193.2 1002.2) scale(0.86 1)" font-family="Liberation Sans" font-size="25" stroke="#000" stroke-width="0.55">5</text>
<rect x="596.3" y="1090.5" width="36.9" height="36.9" fill="#b4b4b4" stroke="#000" stroke-width="2.6"/>
<path d="M605.9,1097.2 L605.9,1115.2 M600.9,1100.4 L606.5,1097.5" stroke="#000" stroke-width="2.4" fill="none" stroke-linecap="butt"/>
<text transform="translate(611.5 1115.7) scale(0.86 1)" font-family="Liberation Sans" font-size="25" stroke="#000" stroke-width="0.55">3</text>
<rect x="657.5" y="1090.5" width="36.9" height="36.9" fill="#b4b4b4" stroke="#000" stroke-width="2.6"/>
<path d="M667.1,1097.2 L667.1,1115.2 M662.1,1100.4 L667.7,1097.5" stroke="#000" stroke-width="2.4" fill="none" stroke-linecap="butt"/>
<text transform="translate(672.7 1115.7) scale(0.86 1)" font-family="Liberation Sans" font-size="25" stroke="#000" stroke-width="0.55">7</text>
<rect x="728.3" y="1090.5" width="36.9" height="36.9" fill="#b4b4b4" stroke="#000" stroke-width="2.6"/>
<path d="M737.9,1097.2 L737.9,1115.2 M732.9,1100.4 L738.5,1097.5" stroke="#000" stroke-width="2.4" fill="none" stroke-linecap="butt"/>
<text transform="translate(743.5 1115.7) scale(0.86 1)" font-family="Liberation Sans" font-size="25" stroke="#000" stroke-width="0.55">8</text>
</g>
</svg>
</body></html>
